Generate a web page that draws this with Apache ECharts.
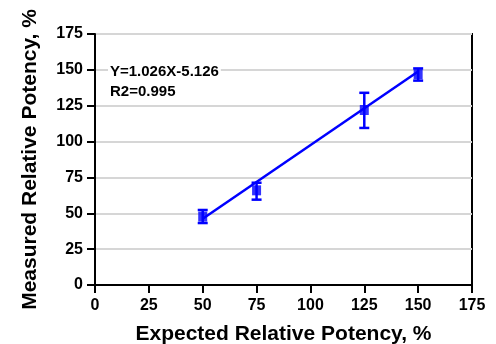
<!DOCTYPE html>
<html><head><meta charset="utf-8">
<script src="https://cdn.jsdelivr.net/npm/echarts@6/dist/echarts.min.js"></script>
<style>html,body{margin:0;padding:0;background:#fff}#c{width:496px;height:344px}</style>
</head><body><div id="c"></div>
<script>
const expected = [50, 75, 125, 150];
const measured = [47.7, 66, 122, 147];
const errLow = [43.2, 59.5, 109.5, 142.5];
const errHigh = [52.3, 71.3, 134, 151];
const fitX = [50, 150];
const fitY = [46.2, 148.8];
const ticks = [0, 25, 50, 75, 100, 125, 150, 175];
const eqLines = ['Y=1.026X-5.126', 'R2=0.995'];

const chart = echarts.init(document.getElementById('c'));
const font = 'Liberation Sans, Arial, sans-serif';
const axisCommon = {
  min: ticks[0], max: ticks[ticks.length-1], interval: 25,
  axisLine: {show: true, onZero: false, lineStyle: {color: '#000', width: 2}},
  axisTick: {show: true, length: 8, lineStyle: {color: '#000', width: 2}},
  axisLabel: {color: '#000', fontWeight: 'bold', fontSize: 16, fontFamily: font},
  nameTextStyle: {color: '#000', fontWeight: 'bold', fontSize: 21, fontFamily: font},
  nameLocation: 'middle'
};
chart.setOption({
  animation: false,
  grid: {left: 95, right: 24, top: 34, bottom: 59, show: true, borderColor: '#000', borderWidth: 2,
    containLabel: false, outerBoundsMode: 'none'},
  xAxis: Object.assign({}, axisCommon, {type: 'value', name: 'Expected Relative Potency, %', nameGap: 39,
    splitLine: {show: false}, axisLabel: Object.assign({}, axisCommon.axisLabel, {margin: 13})}),
  yAxis: Object.assign({}, axisCommon, {type: 'value', name: 'Measured Relative Potency, %', nameGap: 54,
    splitLine: {show: true, lineStyle: {color: '#d6d6d6', width: 2}},
    axisLabel: Object.assign({}, axisCommon.axisLabel, {margin: 12})}),
  graphic: [{type: 'text', left: 108, top: 62, z: 10, style: {text: eqLines.join('\n'), fill: '#000',
    font: 'bold 15px ' + font, lineHeight: 20, backgroundColor: '#fff', padding: [0, 2, 0, 2]}}],
  series: [
    {type: 'line', data: fitX.map((x, i) => [x, fitY[i]]), symbol: 'none',
     lineStyle: {color: '#0000ff', width: 2.5}, z: 3},
    {type: 'custom', data: expected.map((x, i) => [x, errLow[i], errHigh[i]]), z: 4,
     renderItem: function (params, api) {
       const lo = api.coord([api.value(0), api.value(1)]);
       const hi = api.coord([api.value(0), api.value(2)]);
       const w = 5;
       const st = {stroke: '#0000ff', lineWidth: 2.5};
       return {type: 'group', children: [
         {type: 'line', shape: {x1: lo[0], y1: lo[1], x2: hi[0], y2: hi[1]}, style: st},
         {type: 'line', shape: {x1: lo[0]-w, y1: lo[1], x2: lo[0]+w, y2: lo[1]}, style: st},
         {type: 'line', shape: {x1: hi[0]-w, y1: hi[1], x2: hi[0]+w, y2: hi[1]}, style: st}
       ]};
     }},
    {type: 'scatter', data: expected.map((x, i) => [x, measured[i]]), symbol: 'rect', symbolSize: [9, 10],
     itemStyle: {color: '#0000ff'}, z: 5}
  ]
});
</script></body></html>
